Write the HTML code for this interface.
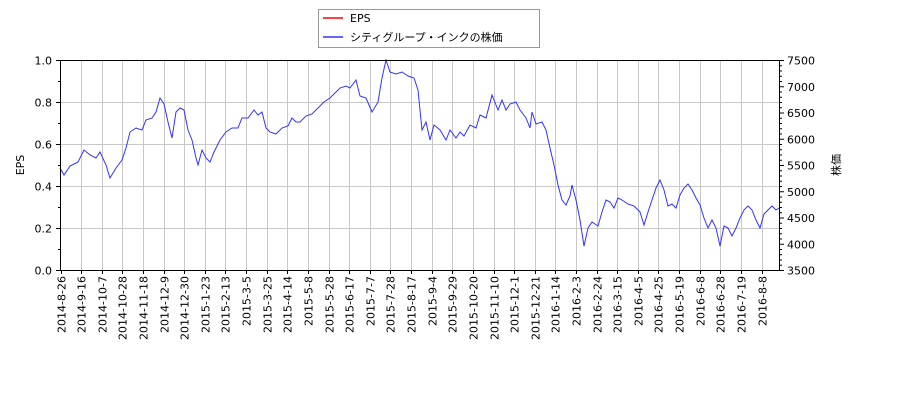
<!DOCTYPE html>
<html><head><meta charset="utf-8"><style>body{margin:0;background:#fff}svg{display:block}text{font-family:"DejaVu Sans","Liberation Sans","Noto Sans CJK JP",sans-serif;font-size:11px;fill:#000}</style></head><body>
<svg width="900" height="400" xmlns="http://www.w3.org/2000/svg">
<g stroke="#c8c8c8" stroke-width="1" id="grid"></g>
<polyline fill="none" stroke="#3333ff" stroke-width="1" points="60,168 64,175 70,166 78,162 84,150 90,155 96,158 100,152 106,165 110,178 116,168 122,160 126,148 130,132 136,128 142,130 146,120 152,118 156,112 160,98 164,104 168,122 172,138 176,112 180,108 184,110 188,130 192,140 196,158 198,165 202,150 206,158 210,162 214,152 220,140 226,132 232,128 238,128 242,118 248,118 254,110 258,115 262,112 266,128 270,132 276,134 282,128 288,126 292,118 296,122 300,122 306,116 312,114 318,108 324,102 330,98 336,92 340,88 346,86 350,88 356,80 360,96 366,98 372,112 378,102 382,78 386,60 390,72 396,74 402,72 408,76 414,78 418,90 422,130 426,122 430,140 434,125 440,130 446,140 450,130 456,138 460,132 464,136 470,125 476,128 480,115 486,118 492,95 498,110 502,100 506,110 510,104 516,102 520,110 526,118 530,128 532,112 536,124 542,122 546,130 550,148 554,165 558,185 562,200 566,205 570,196 572,185 576,200 580,220 584,246 588,228 592,222 598,226 602,212 606,200 610,202 614,208 618,198 622,200 628,204 634,206 640,212 644,225 648,212 652,200 656,188 660,180 664,190 668,206 672,204 676,208 680,195 684,188 688,184 692,190 696,198 700,205 704,218 708,228 712,220 716,228 720,246 724,226 728,228 732,236 736,228 740,218 744,210 748,206 752,210 756,220 760,228 764,214 768,210 772,206 776,210 779,208"/>
<rect x="60.5" y="60.5" width="719" height="210" fill="none" stroke="#000"/>
<g id="ax"></g>
<text x="24" y="165" text-anchor="middle" transform="rotate(-90 24 165)">EPS</text>
<text x="840" y="165" text-anchor="middle" transform="rotate(-90 840 165)">株価</text>
<rect x="318.5" y="9.5" width="221" height="38" fill="#fff" stroke="#999"/>
<line x1="323" y1="18" x2="343" y2="18" stroke="#f00" stroke-width="1.5"/>
<text x="350" y="22">EPS</text>
<line x1="323" y1="37" x2="343" y2="37" stroke="#3333ff" stroke-width="1.5"/>
<text x="350" y="41">シティグループ・インクの株価</text>
<script>
var ns="http://www.w3.org/2000/svg",g=document.getElementById('grid'),a=document.getElementById('ax');
function el(p,t,at,tx){var e=document.createElementNS(ns,t);for(var k in at)e.setAttribute(k,at[k]);if(tx)e.textContent=tx;p.appendChild(e);return e;}
var labs=["2014-8-26","2014-9-16","2014-10-7","2014-10-28","2014-11-18","2014-12-9","2014-12-30","2015-1-23","2015-2-13","2015-3-5","2015-3-25","2015-4-14","2015-5-8","2015-5-28","2015-6-17","2015-7-7","2015-7-28","2015-8-17","2015-9-4","2015-9-29","2015-10-20","2015-11-10","2015-12-1","2015-12-21","2016-1-14","2016-2-3","2016-2-24","2016-3-15","2016-4-5","2016-4-25","2016-5-19","2016-6-8","2016-6-28","2016-7-19","2016-8-8"];
labs.forEach(function(l,i){var x=60.5+i*20.62;x=Math.round(x)+0.5;if(i>0)el(g,'line',{x1:x,y1:60,x2:x,y2:270});el(a,'line',{x1:x,y1:270,x2:x,y2:274,stroke:'#000'});el(a,'text',{x:x+4,y:276,'text-anchor':'end',transform:'rotate(-90 '+(x+4)+' 276)'},l);});
for(var i=0;i<=5;i++){var y=270.5-i*42;if(i>0&&i<5)el(g,'line',{x1:60,y1:y,x2:780,y2:y});el(a,'line',{x1:56,y1:y,x2:60,y2:y,stroke:'#000'});el(a,'text',{x:52,y:y+4,'text-anchor':'end'},(i*0.2).toFixed(1));if(i<5)el(a,'line',{x1:58,y1:y-21,x2:60,y2:y-21,stroke:'#000'});}
for(var i=0;i<=40;i++){var y=270.5-i*5.25;var maj=i%5==0;el(a,'line',{x1:780,y1:y,x2:maj?784:782,y2:y,stroke:'#000'});if(maj)el(a,'text',{x:787,y:y+4},String(3500+i*100));}
</script>
</svg></body></html>
